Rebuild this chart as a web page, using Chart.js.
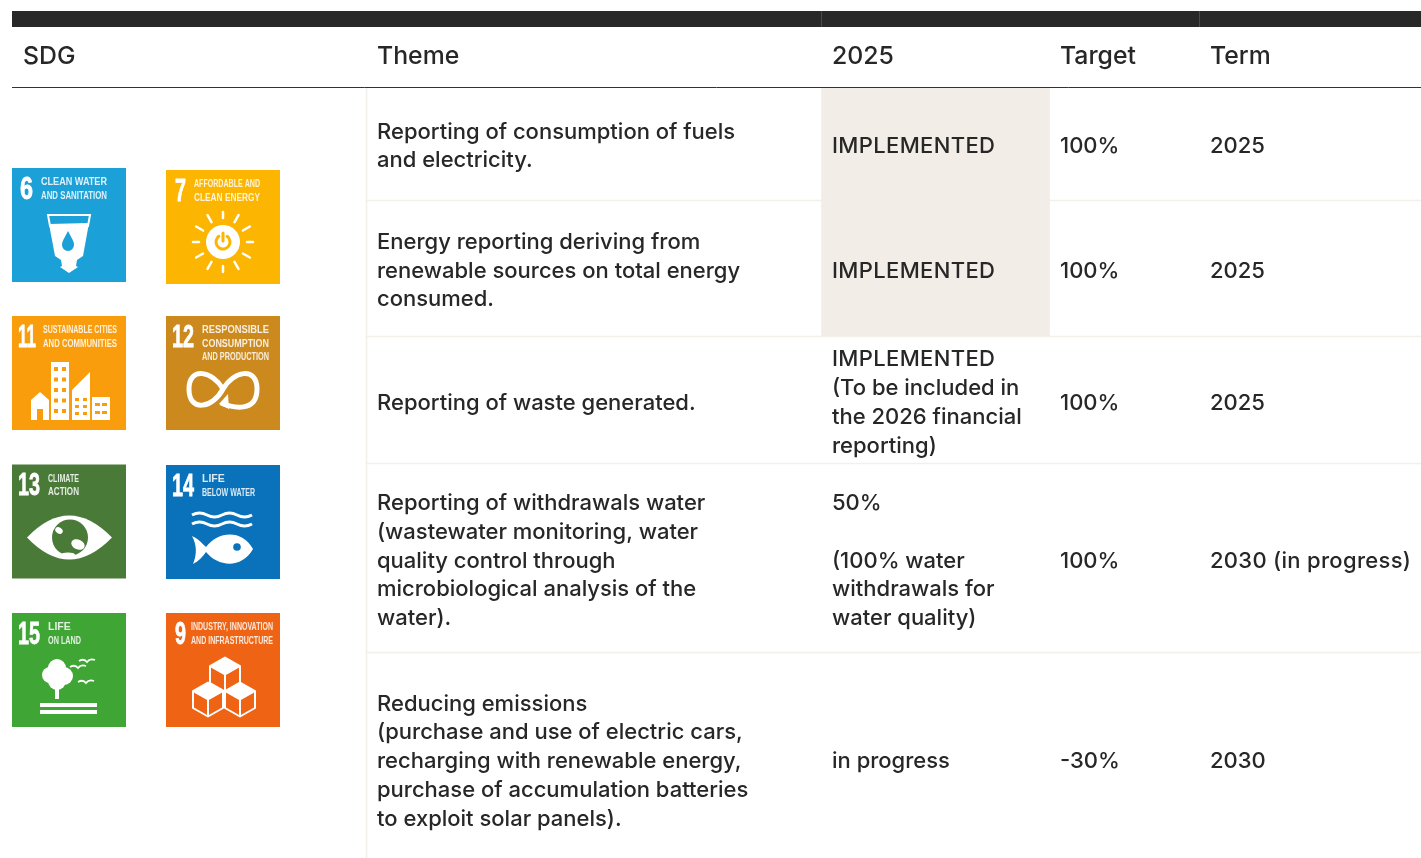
<!DOCTYPE html>
<html>
<head>
<meta charset="utf-8">
<title>SDG table</title>
<style>
  html, body { margin: 0; padding: 0; background: #fff; }
  #wrap { width: 1421px; height: 858px; }
</style>
<script src="https://cdn.jsdelivr.net/npm/chart.js@4"></script>
</head>
<body>
<div id="wrap"><canvas id="SdgTable"></canvas></div>
<script>
// table content
const headers = ["SDG", "Theme", "2025", "Target", "Term"];
const themes = [
  ["Reporting of consumption of fuels", "and electricity."],
  ["Energy reporting deriving from", "renewable sources on total energy", "consumed."],
  ["Reporting of waste generated."],
  ["Reporting of withdrawals water", "(wastewater monitoring, water", "quality control through", "microbiological analysis of the", "water)."],
  ["Reducing emissions", "(purchase and use of electric cars,", "recharging with renewable energy,", "purchase of accumulation batteries", "to exploit solar panels)."],
];
const status2025 = [
  ["IMPLEMENTED"],
  ["IMPLEMENTED"],
  ["IMPLEMENTED", "(To be included in", "the 2026 financial", "reporting)"],
  ["50%", "", "(100% water", "withdrawals for", "water quality)"],
  ["in progress"],
];
const targets = ["100%", "100%", "100%", "100%", "-30%"];
const terms = ["2025", "2025", "2025", "2030 (in progress)", "2030"];
const sdgNumbers = ["6", "7", "11", "12", "13", "14", "15", "9"];
const sdgTitles = [
  ["CLEAN WATER", "AND SANITATION"],
  ["AFFORDABLE AND", "CLEAN ENERGY"],
  ["SUSTAINABLE CITIES", "AND COMMUNITIES"],
  ["RESPONSIBLE", "CONSUMPTION", "AND PRODUCTION"],
  ["CLIMATE", "ACTION"],
  ["LIFE", "BELOW WATER"],
  ["LIFE", "ON LAND"],
  ["INDUSTRY, INNOVATION", "AND INFRASTRUCTURE"],
];

// table geometry, kept apart from the content
const colText = [23, 377, 832, 1060, 1210];
const headerMiddle = 57;
const rowMiddles = [146.5, 271, 403, 561, 761.5];
const rowRules = [200.5, 336.5, 463.5, 652.5];
const tileSize = 114;
const tileCentersX = [69, 223, 69, 223, 69, 223, 69, 223];
const tileCentersY = [225, 227, 373, 373, 521.5, 522, 670, 670];
const tileColors = ["#1ba0d8", "#fcb500", "#f99d0c", "#cc8a1e", "#4a7a38", "#0a72ba", "#3fa535", "#ee6414"];
const numberX = [8, 9, 6, 6, 6, 6, 6, 9];
const numberWidth = [13, 11, 18, 22, 22, 22, 22, 11];
const captionX = [29, 28, 31, 36, 36, 36, 36, 25];
const captionWidth = [66, 66, 74, 67, 31, 53, 33, 82];
const lineGap = 28.75;
const bodyFont = '500 22px Inter, "Liberation Sans", sans-serif';
const headFont = '500 24.8px Inter, "Liberation Sans", sans-serif';
const ink = "#272727";
const cream = "#f2ede6";

// later datasets paint first at equal order, so the order value sets the stack
function rule(x1, y1, x2, y2, color, width, order) {
  return {
    type: "scatter", showLine: true, pointRadius: 0, borderColor: color, borderWidth: width,
    data: [{ x: x1, y: y1 }, { x: x2, y: y2 }], order: order,
  };
}

// white glyph drawn inside a tile, coordinates local to the tile
const glyphs = {
  "6"(c, col) {
    c.fillStyle = "#fff"; c.strokeStyle = "#fff"; c.lineWidth = 2;
    c.beginPath(); c.moveTo(36, 47); c.lineTo(78, 47); c.lineTo(76, 58); c.lineTo(38, 58); c.closePath(); c.stroke();
    c.beginPath(); c.moveTo(37, 56); c.lineTo(77, 55); c.lineTo(71, 88); c.lineTo(65, 92); c.lineTo(64, 98); c.lineTo(66, 99); c.lineTo(57, 105);
    c.lineTo(48, 99); c.lineTo(50, 98); c.lineTo(49, 92); c.lineTo(43, 88); c.closePath(); c.fill();
    c.fillStyle = col; c.beginPath(); c.moveTo(56, 63); c.bezierCurveTo(60, 71, 62, 73, 62, 77); c.arc(56, 77, 6, 0, Math.PI); c.bezierCurveTo(50, 73, 52, 71, 56, 63); c.fill();
  },
  "7"(c, col) {
    c.fillStyle = "#fff"; c.strokeStyle = "#fff"; c.lineWidth = 2.5; c.lineCap = "round";
    c.beginPath(); c.arc(57, 72, 17, 0, Math.PI * 2); c.fill();
    for (let i = 0; i < 12; i++) {
      const a = (i * Math.PI) / 6;
      const r0 = i % 3 === 0 ? 24 : 23, r1 = i % 3 === 0 ? 30 : 31;
      c.beginPath(); c.moveTo(57 + r0 * Math.cos(a), 72 + r0 * Math.sin(a)); c.lineTo(57 + r1 * Math.cos(a), 72 + r1 * Math.sin(a)); c.stroke();
    }
    c.strokeStyle = col; c.lineWidth = 3;
    c.beginPath(); c.arc(57, 72, 7, -Math.PI * 0.3, Math.PI * 1.3); c.stroke();
    c.beginPath(); c.moveTo(57, 63); c.lineTo(57, 71); c.stroke();
  },
  "11"(c, col) {
    c.fillStyle = "#fff";
    c.fillRect(39, 46, 18, 58);
    c.beginPath(); c.moveTo(60, 104); c.lineTo(60, 74); c.lineTo(78, 56); c.lineTo(78, 104); c.closePath(); c.fill();
    c.fillRect(80, 81, 18, 23);
    c.beginPath(); c.moveTo(19, 84); c.lineTo(28, 76); c.lineTo(37, 84); c.lineTo(37, 104); c.lineTo(31, 104); c.lineTo(31, 93); c.lineTo(25, 93); c.lineTo(25, 104); c.lineTo(19, 104); c.closePath(); c.fill();
    c.fillStyle = col;
    for (let r = 0; r < 5; r++) { c.fillRect(42, 51 + r * 10.5, 4, 4); c.fillRect(50, 51 + r * 10.5, 4, 4); }
    for (let r = 0; r < 3; r++) { c.fillRect(63, 82 + r * 7, 4, 3); c.fillRect(71, 82 + r * 7, 4, 3); }
    for (let r = 0; r < 2; r++) { c.fillRect(83, 87 + r * 8, 5, 3); c.fillRect(90, 87 + r * 8, 5, 3); }
  },
  "12"(c) {
    c.strokeStyle = "#fff"; c.lineWidth = 5; c.fillStyle = "#fff";
    c.beginPath(); c.moveTo(57, 73);
    c.bezierCurveTo(47, 55, 23, 50, 23, 73); c.bezierCurveTo(23, 97, 47, 92, 57, 73);
    c.bezierCurveTo(67, 55, 91, 50, 91, 73); c.bezierCurveTo(91, 97, 67, 92, 55, 87); c.stroke();
    c.beginPath(); c.moveTo(62, 78); c.lineTo(53, 88); c.lineTo(63, 93); c.closePath(); c.fill();
  },
  "13"(c, col) {
    c.fillStyle = "#fff";
    c.beginPath(); c.moveTo(15, 73); c.quadraticCurveTo(57, 29, 100, 73); c.quadraticCurveTo(57, 117, 15, 73); c.fill();
    c.fillStyle = col; c.beginPath(); c.arc(58, 73, 18, 0, Math.PI * 2); c.fill();
    c.fillStyle = "#fff";
    c.beginPath(); c.ellipse(66, 80, 7, 5, 0.4, 0, Math.PI * 2); c.fill();
    c.beginPath(); c.ellipse(47, 66, 4, 3, 0.6, 0, Math.PI * 2); c.fill();
    c.beginPath(); c.ellipse(56, 90, 7, 2, 0, 0, Math.PI * 2); c.fill();
  },
  "14"(c, col) {
    c.strokeStyle = "#fff"; c.lineWidth = 3; c.fillStyle = "#fff";
    [50, 59].forEach((y) => {
      c.beginPath(); c.moveTo(26, y);
      for (let i = 0; i < 4; i++) c.quadraticCurveTo(33.5 + i * 15, y + (i % 2 ? 4 : -4), 41 + i * 15, y);
      c.stroke();
    });
    c.beginPath(); c.moveTo(87, 84); c.bezierCurveTo(76, 64, 52, 66, 40, 82); c.bezierCurveTo(36, 78, 31, 73, 26, 71);
    c.bezierCurveTo(31, 80, 31, 90, 27, 99); c.bezierCurveTo(33, 96, 37, 91, 40, 87); c.bezierCurveTo(52, 102, 76, 104, 87, 84); c.fill();
    c.fillStyle = col; c.beginPath(); c.arc(71, 82, 3.8, 0, Math.PI * 2); c.fill();
  },
  "15"(c) {
    c.fillStyle = "#fff"; c.strokeStyle = "#fff";
    [[45, 55, 9], [38, 62, 8], [52, 63, 9], [45, 68, 9]].forEach((b) => { c.beginPath(); c.arc(b[0], b[1], b[2], 0, Math.PI * 2); c.fill(); });
    c.fillRect(43, 74, 4, 12);
    c.fillRect(28, 90, 57, 4); c.fillRect(28, 97, 57, 4);
    c.lineWidth = 1.8;
    [[66, 54], [75, 48], [74, 69]].forEach((b) => {
      c.beginPath(); c.moveTo(b[0] - 8, b[1]); c.quadraticCurveTo(b[0] - 3, b[1] - 3, b[0], b[1] + 1); c.quadraticCurveTo(b[0] + 3, b[1] - 3, b[0] + 8, b[1] - 1); c.stroke();
    });
  },
  "9"(c) {
    const cube = (x, y) => {
      const w = 15, h = 8.5, d = 17;
      c.fillStyle = "#fff"; c.strokeStyle = "#fff"; c.lineWidth = 2; c.lineJoin = "round";
      c.beginPath(); c.moveTo(x, y - h); c.lineTo(x + w, y); c.lineTo(x, y + h); c.lineTo(x - w, y); c.closePath(); c.fill(); c.stroke();
      c.beginPath(); c.moveTo(x - w, y); c.lineTo(x - w, y + d); c.lineTo(x, y + d + h); c.lineTo(x + w, y + d); c.lineTo(x + w, y); c.moveTo(x, y + h); c.lineTo(x, y + h + d); c.stroke();
    };
    cube(59, 53); cube(42, 78); cube(74, 78);
  },
};

const labelPlugin = {
  id: "tableText",
  afterDatasetsDraw(chart) {
    const c = chart.ctx, x = chart.scales.x, y = chart.scales.y;
    c.save();
    c.fillStyle = ink; c.textBaseline = "middle"; c.textAlign = "left";

    c.font = headFont;
    headers.forEach((h, i) => c.fillText(h, x.getPixelForValue(colText[i]), y.getPixelForValue(headerMiddle)));

    c.font = bodyFont;
    const block = (lines, col, mid) => {
      const top = mid - ((lines.length - 1) * lineGap) / 2;
      lines.forEach((t, i) => {
        // capitals and the long term label run a little wider in the original
        c.letterSpacing = t === t.toUpperCase() && t.length > 5 ? "0.35px" : t.includes("(in") ? "0.3px" : "0px";
        c.fillText(t, x.getPixelForValue(colText[col]), y.getPixelForValue(top + i * lineGap));
      });
      c.letterSpacing = "0px";
    };
    rowMiddles.forEach((mid, r) => {
      block(themes[r], 1, mid);
      block(status2025[r], 2, mid);
      block([targets[r]], 3, mid);
      block([terms[r]], 4, mid);
    });

    // tile number, caption and icon
    sdgNumbers.forEach((n, i) => {
      const left = x.getPixelForValue(tileCentersX[i] - tileSize / 2);
      const top = y.getPixelForValue(tileCentersY[i] - tileSize / 2);
      c.save();
      c.translate(left, top);
      c.filter = "blur(0.5px)";
      c.fillStyle = "#fff"; c.strokeStyle = "#fff"; c.lineWidth = 0.8;
      c.font = 'bold 31px "Liberation Sans", sans-serif';
      c.fillText(n, numberX[i], 22, numberWidth[i]);
      c.strokeText(n, numberX[i], 22, numberWidth[i]);
      c.filter = "blur(0.7px)";
      c.font = 'bold 10.5px "Liberation Sans", sans-serif';
      c.globalAlpha = 0.85;
      sdgTitles[i].forEach((t, k) => c.fillText(t, captionX[i], 14.5 + k * 13.5, captionWidth[i]));
      c.globalAlpha = 1;
      c.filter = "blur(0.5px)";
      glyphs[n](c, tileColors[i]);
      c.restore();
    });
    c.restore();
  },
};

const datasets = [
  // cream 2025 cell behind the first two rows
  {
    type: "bar", data: [{ x: 935.5, y: [88, 336] }], backgroundColor: cream,
    barThickness: 228, grouped: false, order: 2,
  },
  {
    type: "scatter", data: tileCentersX.map((cx, i) => ({ x: cx, y: tileCentersY[i] })),
    pointStyle: "rect", pointRadius: tileSize / Math.SQRT2, pointBorderWidth: 0, borderWidth: 0,
    pointBackgroundColor: tileColors, order: 1,
  },
  rule(12, 19, 1421, 19, "#282828", 16, 2),
  rule(821.5, 11, 821.5, 27, "#4a4a4a", 1, 1),
  rule(1199.5, 11, 1199.5, 27, "#4a4a4a", 1, 1),
  rule(12, 87.5, 1421, 87.5, "#333333", 1, 1),
  rule(366.5, 88, 366.5, 858, "#f3efea", 1.5, 1),
];
rowRules.forEach((ry) => datasets.push(rule(366, ry, 1421, ry, "#f3efea", 1.5, 3)));

document.addEventListener("DOMContentLoaded", function () {
  const ctx = document.getElementById("SdgTable").getContext("2d");
  new Chart(ctx, {
    data: { datasets: datasets },
    plugins: [labelPlugin],
    options: {
      responsive: true,
      maintainAspectRatio: false,
      animation: false,
      events: [],
      layout: { padding: 0, autoPadding: false },
      plugins: { legend: { display: false }, tooltip: { enabled: false } },
      scales: {
        x: { type: "linear", min: 0, max: 1421, display: false, offset: false },
        y: { type: "linear", min: 0, max: 858, reverse: true, display: false, offset: false },
      },
    },
  });
});
</script>
</body>
</html>
